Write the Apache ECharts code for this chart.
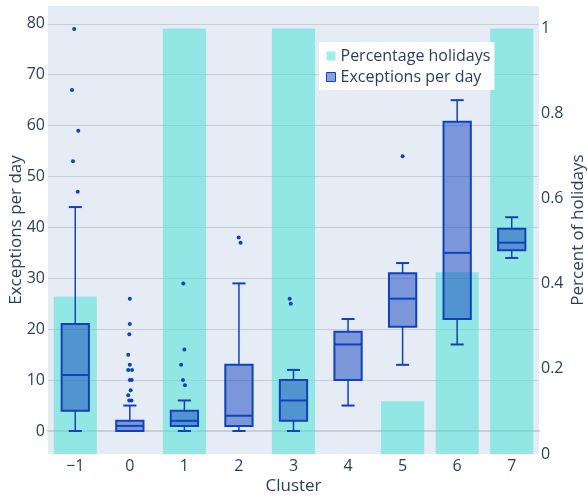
<!DOCTYPE html>
<html>
<head>
<meta charset="utf-8">
<script src="https://cdn.jsdelivr.net/npm/echarts@6/dist/echarts.min.js"></script>
<style>
  html, body { margin: 0; padding: 0; background: #ffffff; }
  #chart { width: 587px; height: 497px; }
</style>
</head>
<body>
<div id="chart"></div>
<script>
// Cluster labels along the x axis
const clusters = ['\u22121', '0', '1', '2', '3', '4', '5', '6', '7'];

// Share of days in each cluster that are holidays (right axis)
const holidayShare = [0.37, 0, 1, 0, 1, 0, 0.124, 0.427, 1];

// Box statistics per cluster: lower whisker, Q1, median, Q3, upper whisker
const whiskerLow  = [0, 0, 0, 0, 0, 5, 13, 17, 34];
const quartile1   = [4, 0, 1, 1, 2, 10, 20.5, 22, 35.5];
const medians     = [11, 1, 2, 3, 6, 17, 26, 35, 37];
const quartile3   = [21, 2, 4, 13, 10, 19.5, 31, 60.75, 39.75];
const whiskerHigh = [44, 5, 6, 29, 12, 22, 33, 65, 42];

// Outlying days: category index, exceptions, small horizontal jitter (fraction of a category band)
const outlierCluster = [0, 0, 0, 0, 0,
  1, 1, 1, 1, 1, 1, 1, 1, 1, 1, 1, 1, 1,
  2, 2, 2, 2, 2,
  3, 3,
  4, 4,
  6];
const outlierValue = [79, 67, 59, 53, 47,
  26, 21, 19, 15, 13, 12, 12, 10, 10, 8, 7, 6, 6,
  29, 16, 13, 10, 9,
  38, 37,
  26, 25,
  54];
const outlierJitter = [-0.02, -0.06, 0.055, -0.042, 0.044,
  0.0, 0.0, -0.01, -0.03, 0.0, -0.03, 0.04, 0.0, 0.035, 0.015, -0.03, -0.01, 0.03,
  -0.02, 0.0, -0.06, -0.025, 0.01,
  -0.005, 0.03,
  -0.07, -0.05,
  0.0];

const leftTicks = { min: -4.52, max: 83.5 };
const rightTicks = { min: 0, max: 1.053, step: 0.2 };

const FONT = 'Open Sans';
const TEXT = '#2a3f5f';
const BOX_LINE = 'rgb(17,66,188)';
const BOX_FILL = 'rgba(17,66,188,0.5)';
const BAR_FILL = 'rgba(64,224,208,0.5)';
const GRID_LINE = '#c9ced6';

const boxData = clusters.map((_, i) =>
  [i, whiskerLow[i], quartile1[i], medians[i], quartile3[i], whiskerHigh[i]]);
const outlierData = outlierValue.map((v, k) => [outlierCluster[k], v, outlierJitter[k]]);

function renderBox(params, api) {
  const i = api.value(0);
  const band = api.size([1, 0])[0];
  const half = band * 0.25;
  const cap = band * 0.12;
  const pLo = api.coord([i, api.value(1)]);
  const pQ1 = api.coord([i, api.value(2)]);
  const pMed = api.coord([i, api.value(3)]);
  const pQ3 = api.coord([i, api.value(4)]);
  const pHi = api.coord([i, api.value(5)]);
  const x = pMed[0];
  const whisk = { stroke: BOX_LINE, lineWidth: 1.5 };
  const edge = { stroke: BOX_LINE, lineWidth: 2 };
  return {
    type: 'group',
    children: [
      { type: 'line', shape: { x1: x, y1: pQ3[1], x2: x, y2: pHi[1] }, style: whisk },
      { type: 'line', shape: { x1: x, y1: pQ1[1], x2: x, y2: pLo[1] }, style: whisk },
      { type: 'line', shape: { x1: x - cap, y1: pHi[1], x2: x + cap, y2: pHi[1] }, style: edge },
      { type: 'line', shape: { x1: x - cap, y1: pLo[1], x2: x + cap, y2: pLo[1] }, style: edge },
      { type: 'rect', shape: { x: x - half, y: pQ3[1], width: half * 2, height: pQ1[1] - pQ3[1] },
        style: { fill: BOX_FILL, stroke: BOX_LINE, lineWidth: 2 } },
      { type: 'line', shape: { x1: x - half, y1: pMed[1], x2: x + half, y2: pMed[1] }, style: edge }
    ]
  };
}

function renderOutlier(params, api) {
  const band = api.size([1, 0])[0];
  const p = api.coord([api.value(0), api.value(1)]);
  return {
    type: 'circle',
    shape: { cx: p[0] + api.value(2) * band, cy: p[1], r: 2 },
    style: { fill: BOX_LINE }
  };
}

const chart = echarts.init(document.getElementById('chart'), null, { renderer: 'canvas' });

chart.setOption({
  animation: false,
  backgroundColor: '#ffffff',
  textStyle: { fontFamily: FONT, color: TEXT },
  grid: {
    left: 48, right: 48, top: 6, bottom: 43,
    outerBoundsMode: 'none', containLabel: false,
    show: true, backgroundColor: '#E5ECF6', borderWidth: 0
  },
  legend: {
    orient: 'vertical',
    left: 319, top: 42,
    padding: [6, 4, 5, 7],
    backgroundColor: '#ffffff',
    itemWidth: 9, itemHeight: 9, itemGap: 5,
    textStyle: { fontFamily: FONT, fontSize: 16, color: TEXT },
    data: [
      { name: 'Percentage holidays', icon: 'rect', itemStyle: { color: BAR_FILL, borderWidth: 0 } },
      { name: 'Exceptions per day', icon: 'rect', itemStyle: { color: BOX_FILL, borderColor: BOX_LINE, borderWidth: 1 } }
    ]
  },
  xAxis: {
    type: 'category',
    data: clusters,
    boundaryGap: true,
    name: 'Cluster',
    nameLocation: 'middle',
    nameGap: 32,
    nameMoveOverlap: false,
    nameTextStyle: { fontFamily: FONT, fontSize: 17, color: TEXT, verticalAlign: 'middle' },
    axisLine: { show: true, lineStyle: { color: GRID_LINE, width: 2 } },
    axisTick: { show: false },
    axisLabel: { fontFamily: FONT, fontSize: 16, color: TEXT, margin: 4 },
    splitLine: { show: false }
  },
  yAxis: [
    {
      type: 'value',
      min: leftTicks.min, max: leftTicks.max,
      minInterval: 10, maxInterval: 10,
      name: 'Exceptions per day',
      nameLocation: 'middle',
      nameGap: 31.5,
      nameMoveOverlap: false,
      nameTextStyle: { fontFamily: FONT, fontSize: 17, color: TEXT, verticalAlign: 'middle' },
      axisLine: { show: false },
      axisTick: { show: false },
      axisLabel: { fontFamily: FONT, fontSize: 16, color: TEXT, margin: 3, showMinLabel: false, showMaxLabel: false },
      splitLine: { show: true, showMinLine: false, showMaxLine: false, lineStyle: { color: GRID_LINE, width: 1 } }
    },
    {
      type: 'value',
      position: 'right',
      min: rightTicks.min, max: rightTicks.max,
      interval: rightTicks.step,
      name: 'Percent of holidays',
      nameLocation: 'middle',
      nameGap: 39.5,
      nameMoveOverlap: false,
      nameTextStyle: { fontFamily: FONT, fontSize: 17, color: TEXT, verticalAlign: 'middle' },
      axisLine: { show: false },
      axisTick: { show: false },
      axisLabel: { fontFamily: FONT, fontSize: 16, color: TEXT, margin: 2, showMaxLabel: false },
      splitLine: { show: false }
    }
  ],
  series: [
    {
      name: 'Percentage holidays',
      type: 'bar',
      yAxisIndex: 1,
      data: holidayShare,
      barWidth: '79%',
      itemStyle: { color: BAR_FILL },
      z: 2
    },
    {
      name: 'Exceptions per day',
      type: 'custom',
      yAxisIndex: 0,
      renderItem: renderBox,
      encode: { x: 0, y: [1, 2, 3, 4, 5] },
      data: boxData,
      z: 3
    },
    {
      name: 'Exceptions per day',
      type: 'custom',
      yAxisIndex: 0,
      renderItem: renderOutlier,
      encode: { x: 0, y: 1 },
      data: outlierData,
      z: 4
    }
  ]
});
</script>
</body>
</html>
